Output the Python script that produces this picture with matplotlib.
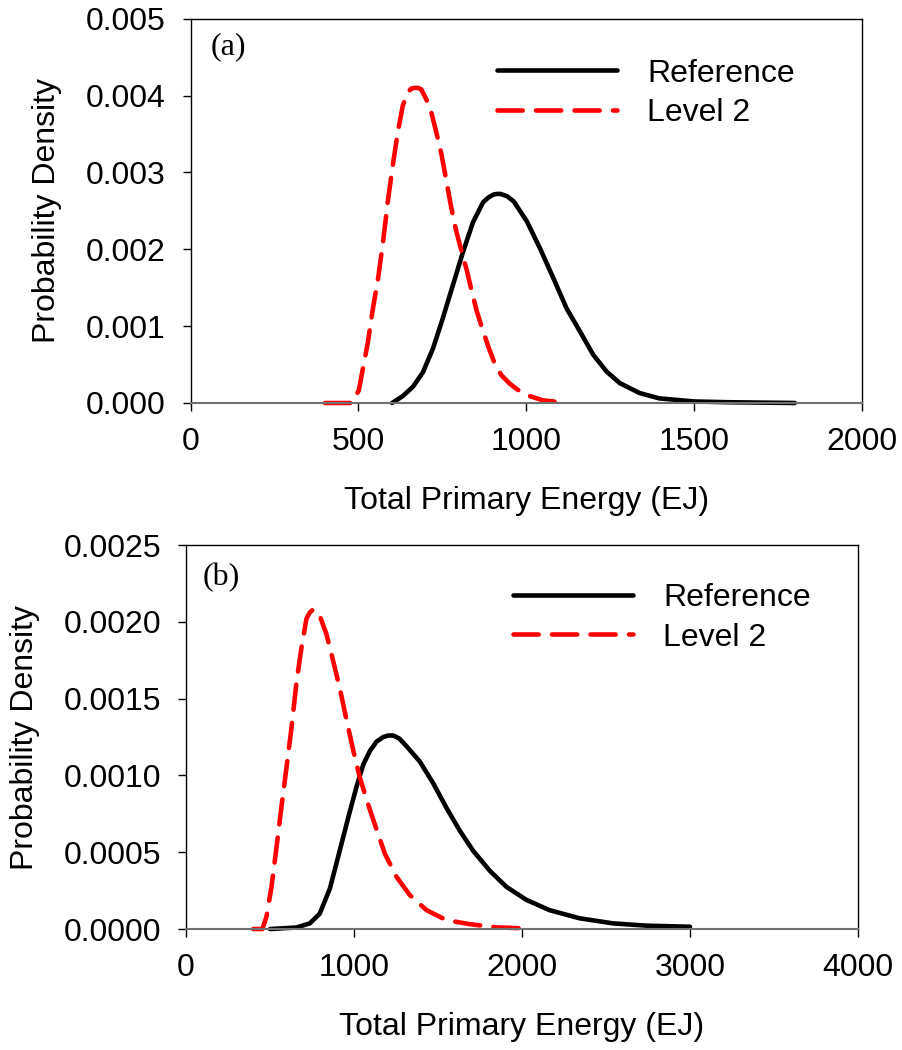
import numpy as np
import matplotlib.pyplot as plt

# energy (EJ) and density values for panel (a)
a_ref_x = [600, 632, 662, 692, 722, 751, 781, 811, 841, 871, 886, 901, 912,
           923, 943, 963, 1002, 1041, 1081, 1120, 1160, 1199, 1239, 1278,
           1337, 1396, 1500, 1600, 1800]
a_ref_y = [0.0, 0.00009, 0.00021, 0.0004, 0.00071, 0.0011, 0.00153, 0.00196,
           0.00235, 0.00261, 0.00267, 0.00271, 0.00272, 0.00272, 0.00269,
           0.00262, 0.00236, 0.00201, 0.00162, 0.00123, 0.00093, 0.00063,
           0.00041, 0.00026, 0.00013, 0.00006, 0.00002, 0.00001, 0.0]
a_lv2_x = [400, 480, 501, 513, 528, 543, 558, 573, 587, 602, 617, 632, 647,
           657, 667, 677, 687, 702, 717, 732, 747, 761, 776, 791, 808, 823,
           837, 852, 867, 887, 906, 926, 951, 975, 1010, 1049, 1100]
a_lv2_y = [0.0, 0.0, 0.000165, 0.000446, 0.00079, 0.00123, 0.00161, 0.00209,
           0.00261, 0.00309, 0.00352, 0.00387, 0.00404, 0.00409, 0.0041,
           0.0041, 0.00408, 0.00395, 0.00378, 0.00352, 0.00324, 0.00291,
           0.00255, 0.00224, 0.00196, 0.00172, 0.00146, 0.0012, 0.00099,
           0.00073, 0.00051, 0.00036, 0.00025, 0.00017, 0.00009, 0.000035,
           0.00001]

# energy (EJ) and density values for panel (b)
b_ref_x = [500, 657, 737, 796, 857, 915, 974, 1016, 1055, 1095, 1134, 1174,
           1204, 1234, 1270, 1313, 1392, 1471, 1550, 1630, 1709, 1808, 1907,
           2026, 2164, 2343, 2541, 2739, 3000]
b_ref_y = [0.0, 0.00001, 0.000037, 0.0001, 0.000265, 0.00051, 0.00076,
           0.00093, 0.00107, 0.00116, 0.00122, 0.00125, 0.00126, 0.00126,
           0.00124, 0.00119, 0.00109, 0.00095, 0.00079, 0.00064, 0.00051,
           0.00038, 0.000275, 0.00019, 0.000123, 0.00007, 0.000037, 0.000022,
           0.000015]
b_lv2_x = [400, 455, 479, 509, 539, 568, 598, 628, 657, 687, 717, 736, 756,
           776, 796, 836, 875, 915, 954, 994, 1034, 1073, 1115, 1184, 1253,
           1333, 1432, 1550, 1689, 1847, 2000]
b_lv2_y = [0.0, 0.0, 0.00008, 0.000275, 0.000535, 0.000794, 0.00105, 0.00131,
           0.0016, 0.00183, 0.00202, 0.00206, 0.00208, 0.00207, 0.00204,
           0.00192, 0.00175, 0.00157, 0.00137, 0.00117, 0.00099, 0.00085,
           0.00071, 0.00049, 0.00034, 0.00022, 0.000123, 0.000058, 0.000032,
           0.000011, 0.000005]

panels = [
    dict(tag="(a)", ref=(a_ref_x, a_ref_y), lv2=(a_lv2_x, a_lv2_y),
         xmax=2000, xstep=500, ymax=0.005, ystep=0.001, yfmt="%.3f",
         rect=[0.2114, 0.6162, 0.7442, 0.366], leg=(0.456, 0.896),
         tagpos=(0.029, 0.927)),
    dict(tag="(b)", ref=(b_ref_x, b_ref_y), lv2=(b_lv2_x, b_lv2_y),
         xmax=4000, xstep=1000, ymax=0.0025, ystep=0.0005, yfmt="%.4f",
         rect=[0.2062, 0.1152, 0.745, 0.3657], leg=(0.487, 0.901),
         tagpos=(0.025, 0.914)),
]

plt.rcParams['font.family'] = ['Liberation Sans', 'DejaVu Sans']
fig = plt.figure(figsize=(9.02, 10.5), dpi=100)

for p in panels:
    ax = fig.add_axes(p["rect"])
    ax.plot(*p["ref"], color="black", lw=3.3, solid_capstyle="round",
            solid_joinstyle="round", clip_on=False, label="Reference")
    ax.plot(*p["lv2"], color="red", lw=3.3, dashes=(5.5, 2.9),
            dash_capstyle="round", dash_joinstyle="round", clip_on=False,
            label="Level 2")

    ax.set_xlim(0, p["xmax"])
    ax.set_ylim(0, p["ymax"])
    ax.set_xticks(np.arange(0, p["xmax"] + 1, p["xstep"]))
    ax.set_yticks(np.arange(0, p["ymax"] + 1e-9, p["ystep"]))
    ax.yaxis.set_major_formatter(plt.FormatStrFormatter(p["yfmt"]))
    ax.tick_params(direction="out", length=6, width=1, labelsize=23)
    ax.tick_params(axis="x", pad=11)
    ax.tick_params(axis="y", pad=12)
    for s in ax.spines.values():
        s.set_linewidth(1)
    ax.spines["bottom"].set_color("#707070")
    ax.spines["bottom"].set_linewidth(1.5)

    ax.set_xlabel("Total Primary Energy (EJ)", fontsize=23, labelpad=21)
    ax.set_ylabel("Probability Density", fontsize=23, labelpad=17)

    ax.text(*p["tagpos"], p["tag"], transform=ax.transAxes, fontsize=23,
            family="Liberation Serif", va="center")

    ax.legend(loc="upper left", bbox_to_anchor=p["leg"], frameon=False,
              fontsize=23, handlelength=3.76, handletextpad=0.94,
              labelspacing=0.3, borderpad=0, borderaxespad=0)

fig.savefig("out.png", dpi=100)
